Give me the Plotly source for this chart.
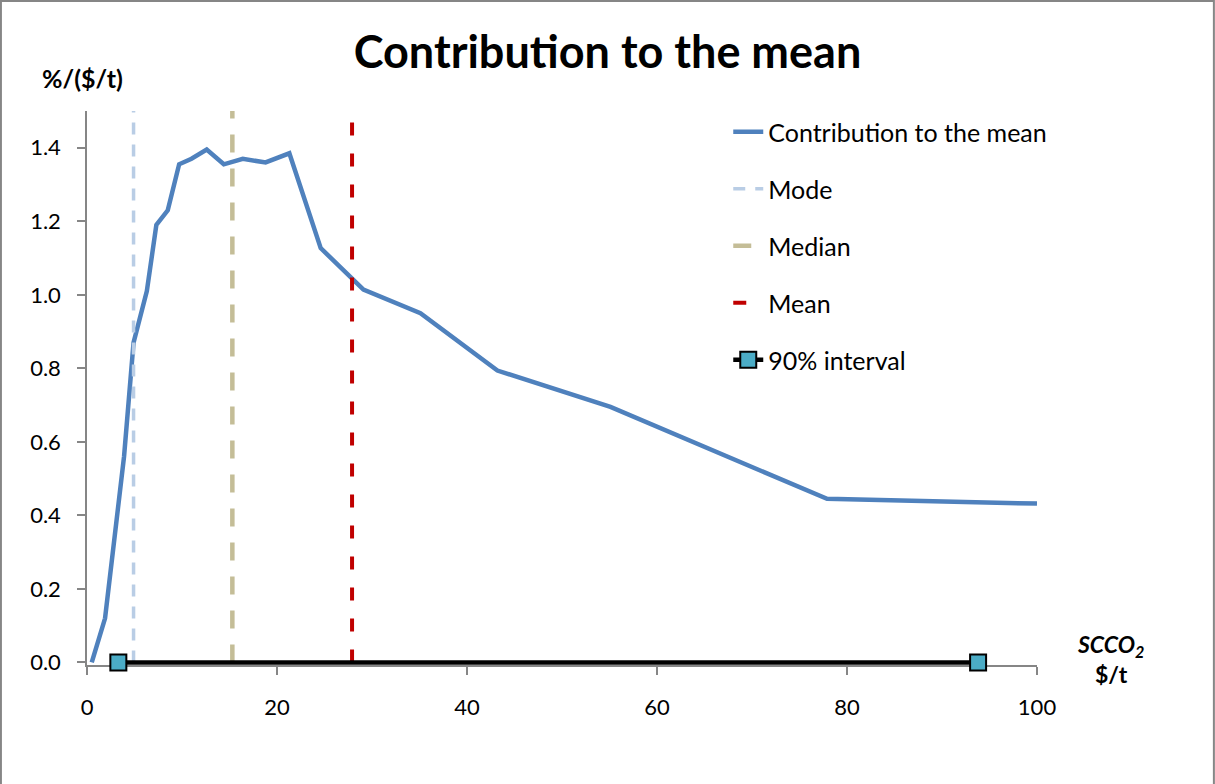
import plotly.graph_objects as go

# ---- data ----
scc_x = [0.5, 1.9, 3.9, 4.9, 6.3, 7.3, 8.5, 9.7, 11.0, 12.6, 14.4, 16.4, 18.8,
         21.3, 24.6, 29.1, 35.1, 43.2, 55.1, 77.9, 100.0]
contribution = [0.0, 0.12, 0.56, 0.87, 1.01, 1.19, 1.23, 1.355, 1.37, 1.395, 1.355,
                1.37, 1.36, 1.385, 1.127, 1.014, 0.95, 0.794, 0.695, 0.445, 0.432]
mode_x = 4.9
median_x = 15.3
mean_x = 27.9
interval_x = [3.3, 93.8]
interval_y = [0.0, 0.0]
y_span = [0.0, 1.5]
x_ticks = [0, 20, 40, 60, 80, 100]
y_ticks = [0.0, 0.2, 0.4, 0.6, 0.8, 1.0, 1.2, 1.4]

FONT = "Lato"
AX = "#868686"

fig = go.Figure()
fig.add_trace(go.Scatter(x=scc_x, y=contribution, mode="lines",
                         name="Contribution to the mean", legendgroup="a",
                         line=dict(color="#4F81BD", width=4.5)))
fig.add_trace(go.Scatter(x=[mode_x, mode_x], y=y_span, mode="lines", name="Mode",
                         legendgroup="b",
                         line=dict(color="#B9CDE5", width=3.5, dash="12px,10px")))
fig.add_trace(go.Scatter(x=[median_x, median_x], y=y_span, mode="lines", name="Median",
                         legendgroup="c",
                         line=dict(color="#C4BD97", width=4.5, dash="18px,16px")))
fig.add_trace(go.Scatter(x=[mean_x, mean_x], y=y_span, mode="lines", name="Mean",
                         legendgroup="d",
                         line=dict(color="#C00000", width=4, dash="13px,18px")))
fig.add_trace(go.Scatter(x=interval_x, y=interval_y, mode="lines+markers",
                         name="90% interval", legendgroup="e", cliponaxis=False,
                         line=dict(color="black", width=4.5),
                         marker=dict(symbol="square", size=16, color="#4BACC6",
                                     line=dict(color="black", width=2))))

fig.update_layout(
    width=1215, height=784,
    margin=dict(l=87, r=178, t=111, b=119),
    paper_bgcolor="white", plot_bgcolor="white",
    font=dict(family=FONT, size=22, color="black"),
    title=dict(text="<b>Contribution to the mean</b>", x=0.5, xref="container",
               xanchor="center", y=1 - 52 / 784, yanchor="middle",
               font=dict(family=FONT, size=45, color="black")),
    legend=dict(x=0.675, xanchor="left", y=1.0036, yanchor="top",
                font=dict(family=FONT, size=25, color="black"),
                tracegroupgap=21.5, bgcolor="rgba(0,0,0,0)", traceorder="grouped"),
    xaxis=dict(range=[0, 100], tickvals=x_ticks, showgrid=False, zeroline=False,
               showline=True, linecolor=AX, linewidth=1.5, ticks="outside",
               ticklen=8, tickcolor=AX, tickwidth=1.5, ticklabelstandoff=14,
               layer="below traces",
               tickfont=dict(family=FONT, size=22, color="black")),
    yaxis=dict(range=[-0.007, 1.5], tickvals=y_ticks, tickformat=".1f", showgrid=False,
               zeroline=False, showline=True, linecolor=AX, linewidth=1.5,
               ticks="outside", ticklen=8, tickcolor=AX, tickwidth=1.5,
               ticklabelstandoff=12, layer="below traces",
               tickfont=dict(family=FONT, size=22, color="black")),
    annotations=[
        dict(text="<b>%/($/t)</b>", xref="paper", yref="paper", x=-0.005, y=1.0596,
             xanchor="center", yanchor="middle", showarrow=False,
             font=dict(family=FONT, size=25, color="black")),
        dict(text="<b><i>SCCO<sub>2</sub></i></b><br><b>$/t</b>", xref="paper",
             yref="paper", x=1.077, y=0.0117, xanchor="center", yanchor="middle",
             showarrow=False, align="center",
             font=dict(family=FONT, size=23, color="black")),
    ],
    shapes=[dict(type="rect", xref="paper", yref="paper", x0=-0.0906, x1=1.1862,
                 y0=-0.3, y1=1.1986, line=dict(color=AX, width=2), layer="below")],
)

fig.write_html("out.html", config={"displayModeBar": False},
               post_script="document.body.style.margin='0';")
